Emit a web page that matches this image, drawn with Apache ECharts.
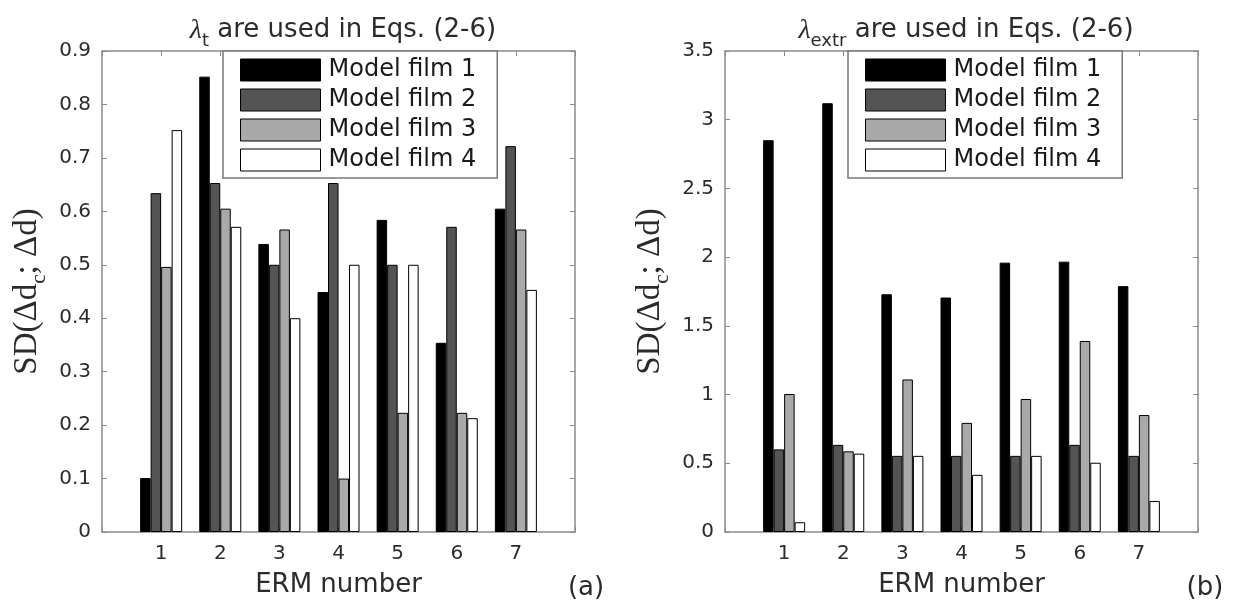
<!DOCTYPE html>
<html>
<head>
<meta charset="utf-8">
<script src="https://cdn.jsdelivr.net/npm/echarts@6/dist/echarts.min.js"></script>
<style>
html,body{margin:0;padding:0;background:#ffffff;}
#chart{width:1235px;height:603px;}
</style>
</head>
<body>
<div id="chart"></div>
<script>
// ---- data ----
const ermNumbers = [1, 2, 3, 4, 5, 6, 7];
const xTickLabels = ['1', '2', '3', '4', '5', '6', '7'];
const seriesNames = ['Model film 1', 'Model film 2', 'Model film 3', 'Model film 4'];

// panel (a): lambda_t
const leftFilm1 = [0.101, 0.852, 0.539, 0.449, 0.584, 0.354, 0.605];
const leftFilm2 = [0.634, 0.653, 0.500, 0.653, 0.500, 0.571, 0.722];
const leftFilm3 = [0.496, 0.605, 0.566, 0.100, 0.223, 0.223, 0.566];
const leftFilm4 = [0.752, 0.571, 0.400, 0.500, 0.500, 0.213, 0.453];

// panel (b): lambda_extr
const rightFilm1 = [2.851, 3.120, 1.730, 1.706, 1.960, 1.967, 1.789];
const rightFilm2 = [0.601, 0.634, 0.554, 0.554, 0.554, 0.634, 0.554];
const rightFilm3 = [1.004, 0.587, 1.110, 0.794, 0.968, 1.390, 0.851];
const rightFilm4 = [0.071, 0.570, 0.554, 0.416, 0.554, 0.504, 0.226];

const yTickLabelsLeft = ['0', '0.1', '0.2', '0.3', '0.4', '0.5', '0.6', '0.7', '0.8', '0.9'];
const yTickLabelsRight = ['0', '0.5', '1', '1.5', '2', '2.5', '3', '3.5'];

// ---- styles ----
const fills = ['#000000', '#545454', '#a9a9a9', '#ffffff'];
const axisGray = '#8a8a8a';
const textCol = '#2b2b2b';
const sans = 'DejaVu Sans';
const serif = 'Liberation Serif';

const chart = echarts.init(document.getElementById('chart'), null, {renderer: 'canvas'});

function xAxes(gridIndex) {
  const common = {
    gridIndex: gridIndex, type: 'value', min: 0, max: 8, interval: 1,
    axisLine: {show: true, onZero: false, lineStyle: {color: axisGray, width: 1.5}},
    axisTick: {show: true, inside: true, length: 5, lineStyle: {color: axisGray, width: 1}},
    splitLine: {show: false}
  };
  return [
    Object.assign({}, common, {
      position: 'bottom',
      axisLabel: {
        show: true, margin: 12, fontSize: 20, fontFamily: sans, color: textCol,
        formatter: function (v) { return (v >= 1 && v <= 7) ? xTickLabels[v - 1] : ''; }
      },
      name: 'ERM number', nameLocation: 'middle', nameGap: 40,
      nameTextStyle: {fontSize: 26, fontFamily: sans, color: textCol}
    }),
    Object.assign({}, common, {position: 'top', axisLabel: {show: false}})
  ];
}

function yAxes(gridIndex, maxV, step, labels) {
  const common = {
    gridIndex: gridIndex, type: 'value', min: 0, max: maxV, interval: step,
    axisLine: {show: true, onZero: false, lineStyle: {color: axisGray, width: 1.5}},
    axisTick: {show: true, inside: true, length: 5, lineStyle: {color: axisGray, width: 1}},
    splitLine: {show: false}
  };
  return [
    Object.assign({}, common, {
      position: 'left',
      axisLabel: {
        show: true, margin: 11, fontSize: 20, fontFamily: sans, color: textCol,
        formatter: function (v) { return labels[Math.round(v / step)]; }
      },
      name: '{a|SD(Δd}{s|c}{a|; Δd)}', nameLocation: 'middle', nameGap: 57,
      nameTextStyle: {
        rich: {
          a: {fontFamily: serif, fontSize: 33, color: textCol, lineHeight: 34, verticalAlign: 'top'},
          s: {fontFamily: serif, fontSize: 21, color: textCol, lineHeight: 21, padding: [18, 0, 0, 0], verticalAlign: 'top'}
        }
      }
    }),
    Object.assign({}, common, {position: 'right', axisLabel: {show: false}})
  ];
}

function barSeries(arrays, xIdx, yIdx) {
  return arrays.map(function (arr, k) {
    return {
      name: seriesNames[k], type: 'bar', xAxisIndex: xIdx, yAxisIndex: yIdx,
      data: ermNumbers.map(function (x, i) { return [x, arr[i]]; }),
      barWidth: 10.5, barGap: '0%',
      itemStyle: {color: fills[k], borderColor: '#000', borderWidth: 1},
      emphasis: {disabled: true}, animation: false
    };
  });
}

const titleRich = {
  l: {fontFamily: serif, fontStyle: 'italic', fontWeight: 'normal', fontSize: 28, color: textCol, lineHeight: 27, verticalAlign: 'top'},
  s: {fontFamily: sans, fontWeight: 'normal', fontSize: 18, color: textCol, lineHeight: 18, padding: [15, 0, 0, 0], verticalAlign: 'top'},
  n: {fontFamily: sans, fontWeight: 'normal', fontSize: 26, color: textCol, lineHeight: 27, verticalAlign: 'top'}
};

function legend(left) {
  return {
    data: seriesNames, orient: 'vertical', left: left, top: 51,
    itemWidth: 80, itemHeight: 22, itemGap: 6, icon: 'rect',
    padding: [7, 21, 6, 17],
    backgroundColor: '#ffffff', borderColor: '#777777', borderWidth: 1.5, borderRadius: 0,
    itemStyle: {borderColor: '#000', borderWidth: 1},
    textStyle: {fontFamily: sans, fontSize: 24, lineHeight: 22, color: '#1a1a1a', padding: [0, 0, 0, 3]},
    selectedMode: false, z: 10
  };
}

const option = {
  animation: false,
  backgroundColor: '#ffffff',
  title: [
    {text: '{l|λ}{s|t}{n| are used in Eqs. (2-6)}', left: 338, top: 12, textAlign: 'center', textStyle: {fontWeight: 'normal', rich: titleRich}},
    {text: '{l|λ}{s|extr}{n| are used in Eqs. (2-6)}', left: 961, top: 12, textAlign: 'center', textStyle: {fontWeight: 'normal', rich: titleRich}},
    {text: '(a)', left: 581, top: 570, textAlign: 'center', textStyle: {fontFamily: sans, fontSize: 26, fontWeight: 'normal', color: textCol}},
    {text: '(b)', left: 1200, top: 570, textAlign: 'center', textStyle: {fontFamily: sans, fontSize: 26, fontWeight: 'normal', color: textCol}}
  ],
  legend: [legend(223), legend(848)],
  grid: [
    {left: 102, top: 51, width: 473, height: 491, containLabel: false},
    {left: 725, top: 51, width: 473, height: 491, containLabel: false}
  ],
  xAxis: xAxes(0).concat(xAxes(1)),
  yAxis: yAxes(0, 0.9, 0.1, yTickLabelsLeft).concat(yAxes(1, 3.5, 0.5, yTickLabelsRight)),
  series: barSeries([leftFilm1, leftFilm2, leftFilm3, leftFilm4], 0, 0)
    .concat(barSeries([rightFilm1, rightFilm2, rightFilm3, rightFilm4], 2, 2))
};
chart.setOption(option);
</script>
</body>
</html>
